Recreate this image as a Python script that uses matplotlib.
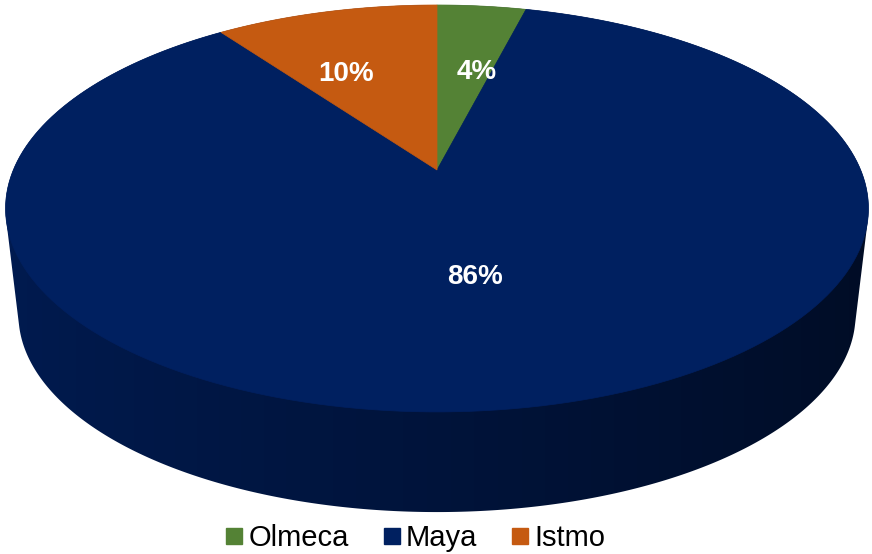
import numpy as np
import matplotlib
matplotlib.use("Agg")
import matplotlib.pyplot as plt
from matplotlib.patches import Polygon
from matplotlib.lines import Line2D
from matplotlib.colors import to_rgb

plt.rcParams['font.family'] = ['Liberation Sans', 'DejaVu Sans']

# data
regions = ["Olmeca", "Maya", "Istmo"]
shares = [4, 86, 10]
colors = ["#548235", "#002060", "#C55A11"]

# geometry of the tilted disc (pixels)
CX, CY = 437, 170        # vertex of the slices
A, B, K = 423.7, 196.2, 0.189   # horizontal / vertical scale, perspective
VANISH_Y = 3750          # vertical vanishing point for the side walls
SHRINK = 0.97            # bottom rim relative to top rim
LABEL_ELLIPSE = (437, 207, 431, 203)
LABEL_RADIUS = [(0.74, 0.67), (0.47, 0.35), (0.68, 0.69)]   # (horizontal, vertical)


def top_point(theta, r=1.0):
    # theta in degrees, clockwise from 12 o'clock
    t = np.radians(theta)
    x = r * np.sin(t)
    z = r * np.cos(t)
    w = 1 + K * z
    return CX + A * x / w, CY - B * z / w


def bottom_point(theta):
    X, Y = top_point(theta)
    return CX + (X - CX) * SHRINK, VANISH_Y + (Y - VANISH_Y) * SHRINK


def convex_hull(points):
    pts = sorted(set(map(tuple, np.round(points, 3))))
    def cross(o, a, b):
        return (a[0] - o[0]) * (b[1] - o[1]) - (a[1] - o[1]) * (b[0] - o[0])
    lower, upper = [], []
    for p in pts:
        while len(lower) >= 2 and cross(lower[-2], lower[-1], p) <= 0:
            lower.pop()
        lower.append(p)
    for p in reversed(pts):
        while len(upper) >= 2 and cross(upper[-2], upper[-1], p) <= 0:
            upper.pop()
        upper.append(p)
    return lower[:-1] + upper[:-1]


fig = plt.figure(figsize=(8.72, 5.54), dpi=100)
ax = fig.add_axes([0, 0, 1, 1])
ax.set_xlim(0, 872)
ax.set_ylim(554, 0)
ax.axis("off")

bounds = np.concatenate([[0], np.cumsum(shares)]) / sum(shares) * 360

# side wall: outline is the hull of the top and bottom rims,
# filled with a horizontal shading taken from the slice at the front
ring = np.linspace(0, 360, 1441)
rim_top = np.array([top_point(a) for a in ring])
rim_bot = np.array([bottom_point(a) for a in ring])
hull = convex_hull(np.vstack([rim_top, rim_bot]))

front = np.linspace(90, 270, 2001)
front_x = np.array([top_point(a)[0] for a in front])
cols = np.arange(0, 872) + 0.5
theta_at = np.interp(cols, front_x[::-1], front[::-1])
strip = np.zeros((1, len(cols), 3))
for j, th in enumerate(theta_at):
    idx = min(np.searchsorted(bounds, th) - 1, len(colors) - 1)
    shade = 0.61 - 0.23 * np.sin(np.radians(th))
    strip[0, j] = np.clip(np.array(to_rgb(colors[idx])) * shade, 0, 1)

side_patch = Polygon(hull, closed=True, facecolor="none", edgecolor="none")
ax.add_patch(side_patch)
img = ax.imshow(strip, extent=(0, 872, 554, 0), aspect="auto",
                interpolation="bilinear", zorder=1)
img.set_clip_path(side_patch)
ax.set_xlim(0, 872)
ax.set_ylim(554, 0)

# top face slices
for i, col in enumerate(colors):
    arc = np.linspace(bounds[i], bounds[i + 1], 200)
    pts = [(CX, CY)] + [top_point(a) for a in arc]
    ax.add_patch(Polygon(pts, closed=True, facecolor=col, edgecolor=col,
                         linewidth=0.5, zorder=2))

# percentage labels
ex, ey, erx, ery = LABEL_ELLIPSE
for i, v in enumerate(shares):
    mid = np.radians((bounds[i] + bounds[i + 1]) / 2)
    rx, ry = LABEL_RADIUS[i]
    lx = ex + erx * rx * np.sin(mid)
    ly = ey - ery * ry * np.cos(mid)
    ax.text(lx, ly, f"{v}%", color="white", fontsize=20, fontweight="bold",
            ha="center", va="center", zorder=3)

handles = [Line2D([], [], marker="s", linestyle="", color=c, markersize=11) for c in colors]
fig.legend(handles, regions, ncol=3, loc="center",
           bbox_to_anchor=(416 / 872, 1 - 538 / 554), frameon=False,
           fontsize=21, handlelength=0.51, handletextpad=0.24, columnspacing=1.2)

fig.savefig("out.png", dpi=100)
